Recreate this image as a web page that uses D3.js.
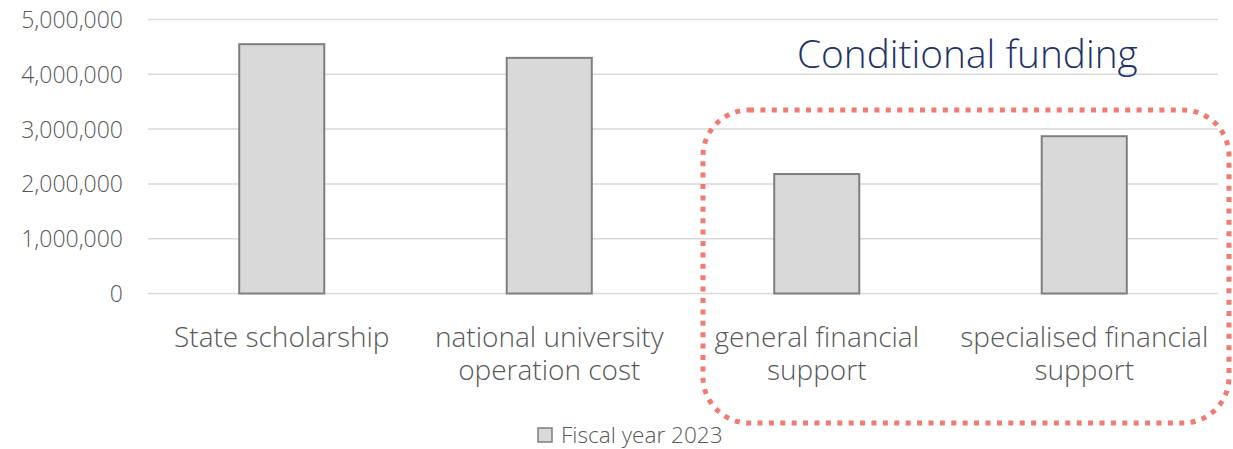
<!DOCTYPE html>
<html>
<head>
<meta charset="utf-8">
<script src="https://cdn.jsdelivr.net/npm/d3@7"></script>
<style>
  html, body { margin: 0; padding: 0; background: #ffffff; }
  svg { display: block; font-family: "Open Sans", "Noto Sans", sans-serif; }
  .lt { font-weight: 300; }
</style>
</head>
<body>
<svg id="chart" width="1233" height="449"></svg>
<script>
// Funding by programme, fiscal year 2023
const categories = [
  ["State scholarship"],
  ["national university", "operation cost"],
  ["general financial", "support"],
  ["specialised financial", "support"]
];
const values = [4550000, 4300000, 2180000, 2870000];
const yTicks = [0, 1000000, 2000000, 3000000, 4000000, 5000000];
const seriesName = "Fiscal year 2023";
const highlightTitle = "Conditional funding";

const svg = d3.select("#chart");
const plot = { left: 148, right: 1218, top: 19.5, bottom: 293.5 };

const keys = categories.map((d, i) => i);
const x = d3.scaleBand().domain(keys).range([plot.left, plot.right]).paddingInner(0.682).paddingOuter(0.341);
const y = d3.scaleLinear().domain([0, 5000000]).range([plot.bottom, plot.top]);
const fmt = d3.format(",");

// gridlines
svg.append("g")
  .selectAll("line")
  .data(yTicks)
  .join("line")
  .attr("x1", plot.left).attr("x2", plot.right)
  .attr("y1", d => y(d)).attr("y2", d => y(d))
  .attr("stroke", "#d9d9d9").attr("stroke-width", 1.5);

// y axis labels
const yAxis = d3.axisLeft(y).tickValues(yTicks).tickFormat(fmt).tickSize(0).tickPadding(0);
const yg = svg.append("g").attr("transform", `translate(${plot.left - 25},0)`).call(yAxis);
yg.select(".domain").remove();
yg.selectAll("text")
  .attr("class", "lt")
  .attr("font-size", 23).attr("fill", "#595959")
  .attr("font-family", "'Open Sans', sans-serif")
  .attr("dy", "0.35em");

// bars
svg.append("g")
  .selectAll("rect")
  .data(values)
  .join("rect")
  .attr("x", (d, i) => x(i))
  .attr("width", x.bandwidth())
  .attr("y", d => y(d))
  .attr("height", d => y(0) - y(d))
  .attr("fill", "#d9d9d9")
  .attr("stroke", "#7f7f7f")
  .attr("stroke-width", 2);

// category labels
const lab = svg.append("g")
  .selectAll("text")
  .data(categories)
  .join("text")
  .attr("class", "lt")
  .attr("text-anchor", "middle")
  .attr("font-size", 28)
  .attr("fill", "#595959");
lab.selectAll("tspan")
  .data((d, i) => d.map(t => ({ t, i })))
  .join("tspan")
  .attr("x", d => x(d.i) + x.bandwidth() / 2)
  .attr("y", (d, j) => 347 + j * 33)
  .text(d => d.t);

// highlight frame around the conditional funding items
svg.append("rect")
  .attr("x", 703).attr("y", 110)
  .attr("width", 526).attr("height", 313)
  .attr("rx", 46).attr("ry", 46)
  .attr("fill", "none")
  .attr("stroke", "#ef7b72")
  .attr("stroke-width", 5)
  .attr("stroke-dasharray", "5 6.4");

svg.append("text")
  .attr("class", "lt")
  .attr("x", 797).attr("y", 68)
  .attr("font-size", 38.8)
  .attr("fill", "#1f3368")
  .text(highlightTitle);

// legend
const lg = svg.append("g").attr("transform", "translate(538,428)");
lg.append("rect").attr("width", 14).attr("height", 14)
  .attr("fill", "#d9d9d9").attr("stroke", "#7f7f7f").attr("stroke-width", 1.5);
lg.append("text").attr("class", "lt").attr("x", 23).attr("y", 15)
  .attr("font-size", 22.6).attr("fill", "#595959")
  .text(seriesName);
</script>
</body>
</html>
